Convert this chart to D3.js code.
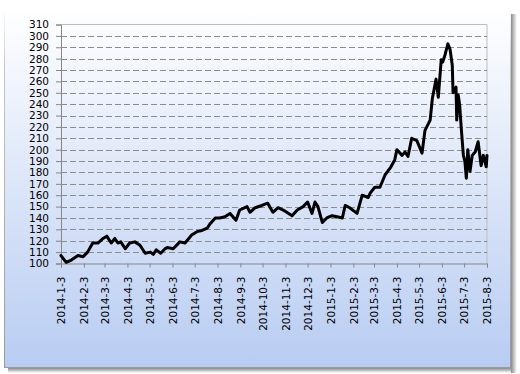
<!DOCTYPE html>
<html>
<head>
<meta charset="utf-8">
<script src="https://cdn.jsdelivr.net/npm/d3@7"></script>
<style>
  body { margin: 0; background: #fff; }
  svg { display: block; }
  .axis text { font-family: "DejaVu Sans", Verdana, sans-serif; font-size: 10.5px; fill: #000; }
</style>
</head>
<body>
<svg width="520" height="374"></svg>
<script>
var svg = d3.select("svg"),
    width = +svg.attr("width"),
    height = +svg.attr("height");

// 日付と値
var dates = [
  "2014-01-03","2014-01-10","2014-01-17","2014-01-26","2014-02-02","2014-02-08","2014-02-15","2014-02-22",
  "2014-03-01","2014-03-06","2014-03-12","2014-03-17","2014-03-21","2014-03-25","2014-03-31","2014-04-06",
  "2014-04-13","2014-04-20","2014-04-27","2014-05-04","2014-05-08","2014-05-12","2014-05-18","2014-05-24",
  "2014-05-27","2014-06-04","2014-06-13","2014-06-20","2014-06-29","2014-07-06","2014-07-13","2014-07-20",
  "2014-07-24","2014-07-31","2014-08-06","2014-08-13","2014-08-20","2014-08-28","2014-09-02","2014-09-12",
  "2014-09-16","2014-09-23","2014-10-02","2014-10-10","2014-10-17","2014-10-24","2014-10-31","2014-11-12",
  "2014-11-19","2014-11-27","2014-12-03","2014-12-09","2014-12-13","2014-12-17","2014-12-23","2014-12-29",
  "2015-01-05","2015-01-12","2015-01-19","2015-01-23","2015-01-29","2015-02-08","2015-02-15","2015-02-23",
  "2015-02-26","2015-03-04","2015-03-11","2015-03-18","2015-03-25","2015-03-31","2015-04-03","2015-04-10",
  "2015-04-14","2015-04-18","2015-04-23","2015-04-30","2015-05-07","2015-05-11","2015-05-18","2015-05-21",
  "2015-05-26","2015-05-29","2015-06-02","2015-06-04","2015-06-07","2015-06-11","2015-06-14","2015-06-17",
  "2015-06-18","2015-06-22","2015-06-23","2015-06-25","2015-06-27","2015-06-29","2015-07-02","2015-07-04",
  "2015-07-06","2015-07-08","2015-07-11","2015-07-14","2015-07-18","2015-07-22","2015-07-26","2015-07-29",
  "2015-08-02","2015-08-03"
];
var values = [
  107,101,103,107,106,110,118,118,
  122,124,118,122,118,119,113,118,
  119,116,109,110,108,112,109,113,
  114,113,119,118,125,128,129,131,
  135,140,140,141,144,138,147,150,
  145,149,151,153,145,149,147,142,
  147,150,154,144,154,150,136,140,
  142,141,140,151,149,144,160,158,
  162,167,167,178,184,191,200,195,
  198,194,210,208,197,217,226,245,
  262,246,279,277,283,293,288,274,
  250,255,226,248,239,220,195,190,
  175,200,181,195,198,207,186,195,
  185,195
];
// 目盛りラベル
var tickDates = [
  "2014-01-03","2014-02-03","2014-03-03","2014-04-03","2014-05-03","2014-06-03","2014-07-03",
  "2014-08-03","2014-09-03","2014-10-03","2014-11-03","2014-12-03","2015-01-03","2015-02-03",
  "2015-03-03","2015-04-03","2015-05-03","2015-06-03","2015-07-03","2015-08-03"
];
var yTicks = d3.range(100, 311, 10);

var parse = d3.timeParse("%Y-%m-%d");
var fmt = function (d) { return d.getFullYear() + "-" + (d.getMonth() + 1) + "-" + d.getDate(); };

var data = dates.map(function (d, i) { return { date: parse(d), value: values[i] }; });

// プロット領域
var plotL = 61, plotR = 487, plotT = 24.5, plotB = 263.5;

var x = d3.scaleTime()
    .domain([parse(tickDates[0]), parse(tickDates[tickDates.length - 1])])
    .range([plotL, plotR]);
var y = d3.scaleLinear().domain([100, 310]).range([plotB, plotT]);

// 背景グラデーション
var defs = svg.append("defs");
var bg = defs.append("linearGradient").attr("id", "bg")
    .attr("x1", 0).attr("y1", 0).attr("x2", 0).attr("y2", 1);
bg.append("stop").attr("offset", "0%").attr("stop-color", "#ffffff");
bg.append("stop").attr("offset", "100%").attr("stop-color", "#b8ccf2");
var edge = defs.append("linearGradient").attr("id", "edge")
    .attr("x1", 0).attr("y1", 0).attr("x2", 0).attr("y2", 1);
edge.append("stop").attr("offset", "0%").attr("stop-color", "#ffffff");
edge.append("stop").attr("offset", "15%").attr("stop-color", "#c8c8c8");
edge.append("stop").attr("offset", "100%").attr("stop-color", "#9a9a9a");
var shR = defs.append("linearGradient").attr("id", "shR")
    .attr("x1", 0).attr("y1", 0).attr("x2", 1).attr("y2", 0);
shR.append("stop").attr("offset", "0%").attr("stop-color", "#8a8a8a");
shR.append("stop").attr("offset", "100%").attr("stop-color", "#ffffff");
var shB = defs.append("linearGradient").attr("id", "shB")
    .attr("x1", 0).attr("y1", 0).attr("x2", 0).attr("y2", 1);
shB.append("stop").attr("offset", "0%").attr("stop-color", "#8a8a8a");
shB.append("stop").attr("offset", "100%").attr("stop-color", "#ffffff");

// 影
svg.append("rect").attr("x", 511).attr("y", 14).attr("width", 6).attr("height", 359).attr("fill", "url(#shR)");
svg.append("rect").attr("x", 8).attr("y", 368).attr("width", 503).attr("height", 5).attr("fill", "url(#shB)");

// チャートエリア
svg.append("rect")
    .attr("x", 4.5).attr("y", 8.5).attr("width", 506).attr("height", 359)
    .attr("fill", "url(#bg)")
    .attr("stroke", "url(#edge)");

// 枠線（上・右）
svg.append("path")
    .attr("d", "M" + plotL + "," + plotT + "H" + plotR + "V" + plotB)
    .attr("fill", "none").attr("stroke", "#bdbdbd");

// グリッド
svg.append("g")
    .selectAll("line")
    .data(yTicks.filter(function (t) { return t > 100 && t < 310; }))
    .enter().append("line")
    .attr("x1", plotL).attr("x2", plotR)
    .attr("y1", function (d) { return Math.round(y(d)) + 0.5; })
    .attr("y2", function (d) { return Math.round(y(d)) + 0.5; })
    .attr("stroke", "#8c8c8c")
    .attr("stroke-dasharray", "6,3");

// y軸
var yAxis = svg.append("g")
    .attr("class", "axis")
    .attr("transform", "translate(" + plotL + ",0)")
    .call(d3.axisLeft(y).tickValues(yTicks).tickSize(5).tickPadding(7).tickFormat(d3.format("d")));
yAxis.select(".domain").attr("stroke", "#868686");
yAxis.selectAll(".tick line").attr("stroke", "#868686");

// x軸
var xAxis = svg.append("g")
    .attr("class", "axis")
    .attr("transform", "translate(0," + plotB + ")")
    .call(d3.axisBottom(x).tickValues(tickDates.map(parse)).tickSize(4).tickFormat(fmt));
xAxis.select(".domain").attr("stroke", "#868686");
xAxis.selectAll(".tick line").attr("stroke", "#868686");
xAxis.selectAll(".tick text")
    .attr("text-anchor", "end")
    .attr("transform", "rotate(-90)")
    .attr("x", -13)
    .attr("y", 0)
    .attr("dy", "0.36em");

// 折れ線
var line = d3.line()
    .x(function (d) { return x(d.date); })
    .y(function (d) { return y(d.value); });

svg.append("path")
    .datum(data)
    .attr("fill", "none")
    .attr("stroke", "#000")
    .attr("stroke-width", 3)
    .attr("stroke-linejoin", "round")
    .attr("stroke-linecap", "round")
    .attr("d", line);
</script>
</body>
</html>
